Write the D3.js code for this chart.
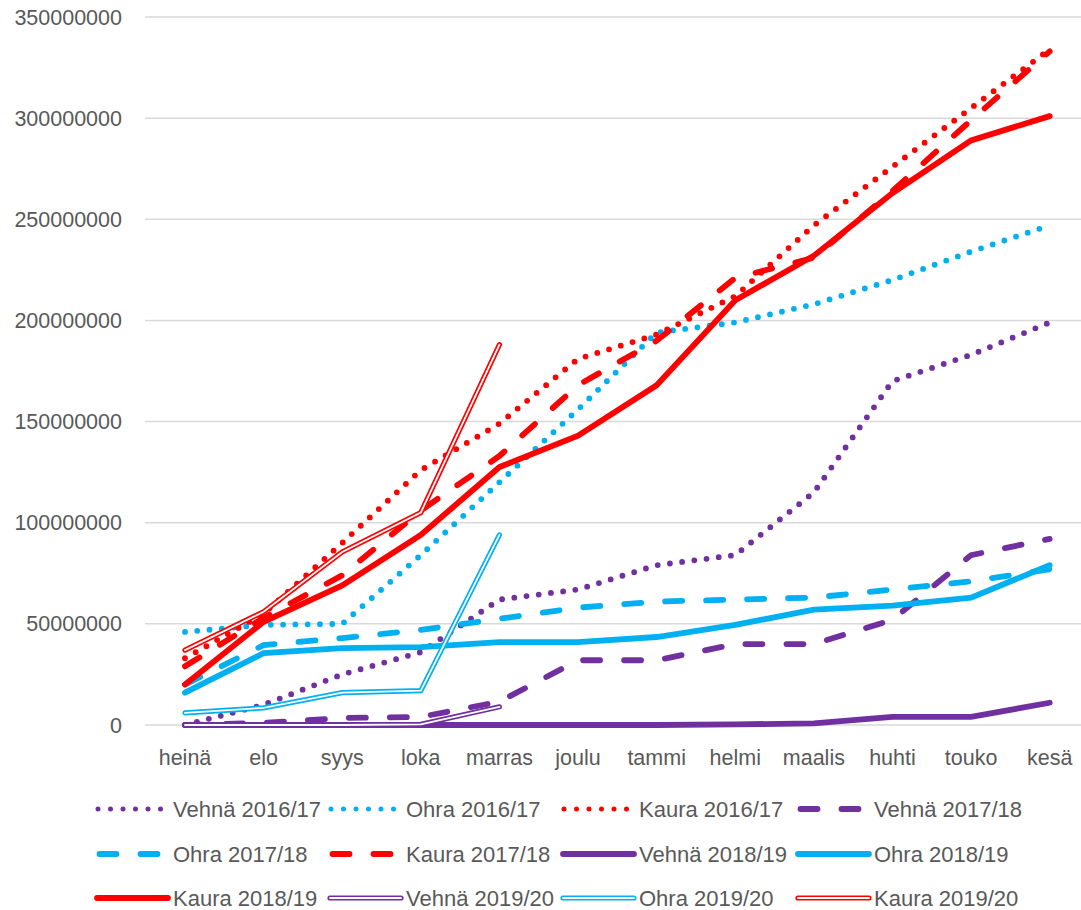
<!DOCTYPE html>
<html><head><meta charset="utf-8">
<script src="https://cdn.jsdelivr.net/npm/d3@7"></script>
<style>body{margin:0;background:#fff}svg{display:block}text{font-family:"Liberation Sans",Arial,sans-serif;fill:#595959}</style>
</head><body><svg id="c" width="1081" height="910"></svg>
<script>
const months = ["heinä","elo","syys","loka","marras","joulu","tammi","helmi","maalis","huhti","touko","kesä"];
const yTicks = [0,50000000,100000000,150000000,200000000,250000000,300000000,350000000];
const seriesNames = ["Vehnä 2016/17","Ohra 2016/17","Kaura 2016/17","Vehnä 2017/18","Ohra 2017/18","Kaura 2017/18","Vehnä 2018/19","Ohra 2018/19","Kaura 2018/19","Vehnä 2019/20","Ohra 2019/20","Kaura 2019/20"];
const vehna1617 = [0,10e6,25e6,36e6,62e6,67e6,79e6,84e6,115e6,170e6,183e6,199e6];
const ohra1617  = [46e6,49.5e6,50e6,84e6,120e6,156e6,194e6,199e6,208e6,220e6,234e6,247e6];
const kaura1617 = [33e6,55e6,90e6,126e6,149e6,181e6,193e6,212e6,247e6,276e6,305e6,334e6];
const vehna1718 = [0,1e6,3.5e6,4e6,11.5e6,32e6,32e6,40e6,40e6,52e6,84e6,92e6];
const ohra1718  = [20e6,39.5e6,43e6,47e6,52.5e6,58e6,61e6,62e6,63e6,67e6,71e6,77e6];
const kaura1718 = [29e6,53e6,74e6,106e6,133e6,168e6,190e6,221e6,231e6,264e6,299e6,333e6];
const vehna1819 = [0,0,0,0,0,0,0,0.3e6,0.8e6,4e6,4e6,11e6];
const ohra1819  = [16e6,35.5e6,38e6,38.5e6,41e6,41e6,43.5e6,49.5e6,57e6,59e6,63e6,79e6];
const kaura1819 = [20e6,51e6,69e6,94e6,127.5e6,143e6,168e6,210e6,232e6,263e6,289e6,301e6];
const vehna1920 = [0,0,0,0.3e6,9e6];
const ohra1920  = [6e6,8.5e6,16e6,17e6,94e6];
const kaura1920 = [37e6,56e6,85.5e6,105e6,188e6];

const data = [vehna1617,ohra1617,kaura1617,vehna1718,ohra1718,kaura1718,vehna1819,ohra1819,kaura1819,vehna1920,ohra1920,kaura1920];
const colors = ["#7030A0","#00B0F0","#FF0000"];
const styles = ["dot","dot","dot","dash","dash","dash","solid","solid","solid","double","double","double"];

const svg = d3.select("#c");
const x = d3.scalePoint().domain(months).range([145.7,1089]).padding(0.5);
const y = d3.scaleLinear().domain([0,350000000]).range([725,17]);

svg.append("g").selectAll("line").data(yTicks).join("line")
  .attr("x1",145).attr("x2",1090).attr("y1",d=>y(d)).attr("y2",d=>y(d))
  .attr("stroke","#d9d9d9").attr("stroke-width",1.5);

svg.append("g").selectAll("text").data(yTicks).join("text")
  .attr("x",122).attr("y",d=>y(d)).attr("dy","0.35em").attr("text-anchor","end")
  .attr("font-size",21.5).text(d=>d3.format("d")(d));

svg.append("g").selectAll("text").data(months).join("text")
  .attr("x",d=>x(d)).attr("y",757).attr("dy","0.35em").attr("text-anchor","middle")
  .attr("font-size",21.5).text(d=>d);

function styleLine(sel, st, col){
  sel.attr("fill","none").attr("stroke",col);
  if(st==="dot"){ sel.attr("stroke-width",5.8).attr("stroke-linecap","round").attr("stroke-dasharray","0 12.3"); }
  else if(st==="dash"){ sel.attr("stroke-width",5.8).attr("stroke-linecap","round").attr("stroke-dasharray","17 24"); }
  else if(st==="solid"){ sel.attr("stroke-width",5.8).attr("stroke-linecap","round").attr("stroke-linejoin","miter"); }
  else { sel.attr("stroke-width",5.2).attr("stroke-linecap","round").attr("stroke-linejoin","miter"); }
}

const line = d3.line().defined(d=>d!=null).x((d,i)=>x(months[i])).y(d=>y(d));
const plot = svg.append("g");
data.forEach((vals,i)=>{
  const st = styles[i], col = colors[i%3];
  const p = plot.append("path").attr("d",line(vals));
  styleLine(p, st, col);
  if(st==="double"){
    plot.append("path").attr("d",line(vals)).attr("fill","none").attr("stroke","#fff")
      .attr("stroke-width",1.8).attr("stroke-linecap","round").attr("stroke-linejoin","miter");
  }
});

const colX = [97,330,563,798];
const rowY = [809,854,898];
const lg = svg.append("g");
seriesNames.forEach((name,i)=>{
  const cx = colX[i%4], cy = rowY[Math.floor(i/4)];
  const st = styles[i], col = colors[i%3];
  const g = lg.append("g");
  const l = g.append("line").attr("x1",cx).attr("x2",cx+71).attr("y1",cy).attr("y2",cy);
  styleLine(l, st, col);
  if(st==="dot") l.attr("x1",cx+1).attr("x2",cx+64).attr("stroke-width",5).attr("stroke-dasharray","0 12.5");
  if(st==="dash") l.attr("x1",cx+2.5).attr("x2",cx+68).attr("stroke-dasharray","17 24");
  if(st==="double") g.append("line").attr("x1",cx).attr("x2",cx+71).attr("y1",cy).attr("y2",cy)
      .attr("stroke","#fff").attr("stroke-width",1.8).attr("stroke-linecap","round");
  g.append("text").attr("x",cx+76).attr("y",cy).attr("dy","0.35em").attr("font-size",22).text(name);
});
</script></body></html>
